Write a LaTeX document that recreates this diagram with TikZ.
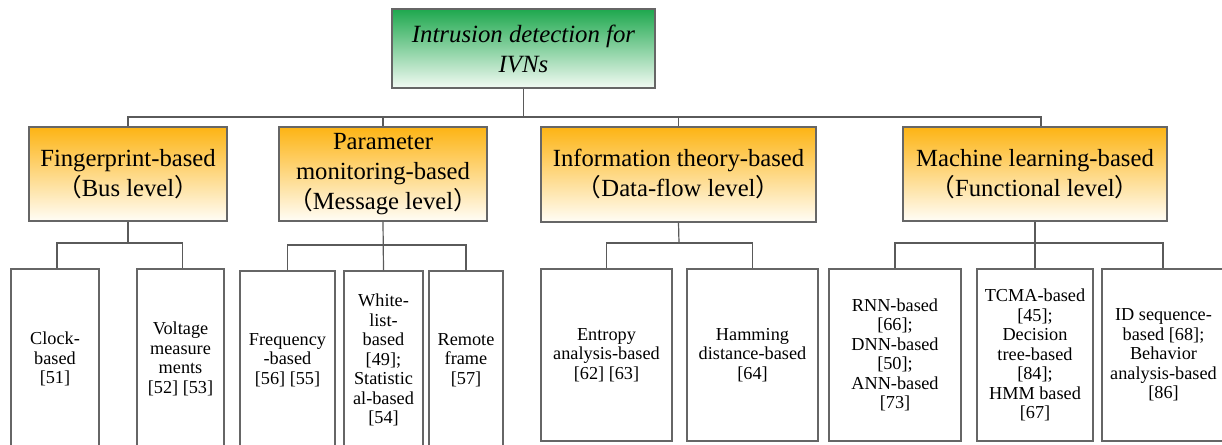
\documentclass[tikz,border=0pt]{standalone}
\usepackage{fontspec}
\setmainfont{Liberation Serif}
\newfontfamily\cjk{Noto Sans CJK SC}
\newcommand{\lp}{{\cjk （}}
\newcommand{\rp}{{\cjk ）}}
\definecolor{linegray}{HTML}{5A5A5A}
\definecolor{boxgray}{HTML}{666666}
\definecolor{orangetop}{HTML}{FDB414}
\definecolor{orangebot}{HTML}{FFFDF6}
\definecolor{greentop}{HTML}{1EA84E}
\definecolor{greenbot}{HTML}{F2FAF3}
\begin{document}
\begin{tikzpicture}[x=0.75pt,y=-0.75pt,
  conn/.style={draw=linegray,line width=0.9pt},
  rootbox/.style={draw=boxgray,line width=0.8pt,top color=greentop,bottom color=greenbot,
    align=center,inner sep=0pt,font=\fontsize{18.6pt}{22.5pt}\selectfont\itshape},
  catbox/.style={draw=boxgray,line width=0.8pt,top color=orangetop,bottom color=orangebot,
    align=center,inner sep=0pt,minimum height=70.5pt,font=\fontsize{18.5pt}{22.5pt}\selectfont},
  leafbox/.style={draw=boxgray,line width=0.8pt,fill=white,align=center,inner sep=0pt,
    font=\fontsize{13.7pt}{14.6pt}\selectfont},
  cutleaf/.style={leafbox,minimum height=135pt},
  fullleaf/.style={leafbox,minimum height=129pt}]
\useasboundingbox[fill=white] (0,0) rectangle (1222,445);

% root
\node[rootbox,minimum width=197.25pt,minimum height=59.25pt] (root) at (523.5,48.5)
  {Intrusion detection for\\IVNs};

% categories
\node[catbox,minimum width=148.5pt] (fp) at (128,174) {Fingerprint-based\\\lp Bus level\rp};
\node[catbox,minimum width=156pt] (pm) at (383,174) {Parameter\\monitoring-based\\\lp Message level\rp};
\node[catbox,minimum width=206.25pt,minimum height=71.25pt] (it) at (678.5,174.5) {Information theory-based\\\lp Data-flow level\rp};
\node[catbox,minimum width=198pt] (ml) at (1035,174) {Machine learning-based\\\lp Functional level\rp};

% leaves (Fingerprint / Parameter: cut by the lower edge)
\node[cutleaf,minimum width=66pt] (clk) at (55,359) {Clock-\\based\\{[51]}};
\node[cutleaf,minimum width=65.25pt] (vol) at (180.5,359) {Voltage\\measure\\ments\\{[52] [53]}};
\node[cutleaf,minimum width=71.25pt,minimum height=133.5pt] (frq) at (287.5,360) {Frequency\\-based\\{[56] [55]}};
\node[cutleaf,minimum width=59.25pt,minimum height=133.5pt] (wht) at (383.5,360) {White-\\list-\\based\\{[49];}\\Statistic\\al-based\\{[54]}};
\node[cutleaf,minimum width=55.5pt,minimum height=133.5pt] (rem) at (466,360) {Remote\\frame\\{[57]}};

% leaves (Information / Machine learning)
\node[fullleaf,minimum width=98.25pt] (ent) at (606.5,355) {Entropy\\analysis-based\\{[62] [63]}};
\node[fullleaf,minimum width=98.25pt] (ham) at (752.5,355) {Hamming\\distance-based\\{[64]}};
\node[fullleaf,minimum width=99pt] (rnn) at (895,355) {RNN-based\\{[66];}\\DNN-based\\{[50];}\\ANN-based\\{[73]}};
\node[fullleaf,minimum width=87pt] (tcma) at (1035,355) {TCMA-based\\{[45];}\\Decision\\tree-based\\{[84];}\\HMM based\\{[67]}};
\node[fullleaf,minimum width=92.25pt] (ids) at (1163.5,355) {ID sequence-\\based [68];\\Behavior\\analysis-based\\{[86]}};

% connectors: root to categories
\coordinate (j0) at (523.5,117);
\draw[conn] (root.south) -- (j0);
\draw[conn] (fp.north) |- (j0) -| ([xshift=4.5pt]ml.north);
\draw[conn] (pm.north) -- (pm.north |- j0);
\draw[conn] (it.north) -- (it.north |- j0);

% Fingerprint children
\coordinate (j1) at (128,243);
\draw[conn] (fp.south) -- (j1);
\draw[conn] ([xshift=1.5pt]clk.north) |- (j1) -| ([xshift=1.2pt]vol.north);

% Parameter children
\coordinate (j2) at (383,245);
\draw[conn] (pm.south) -- (wht.north);
\draw[conn] (frq.north) |- (j2) -| (rem.north);

% Information children
\coordinate (j3) at (679,243);
\draw[conn] (it.south) -- (j3);
\draw[conn] (ent.north) |- (j3) -| (ham.north);

% Machine learning children
\coordinate (j4) at (1035,243);
\draw[conn] (ml.south) -- (tcma.north);
\draw[conn] (rnn.north) |- (j4) -| ([xshift=-0.4pt]ids.north);
\end{tikzpicture}
\end{document}
